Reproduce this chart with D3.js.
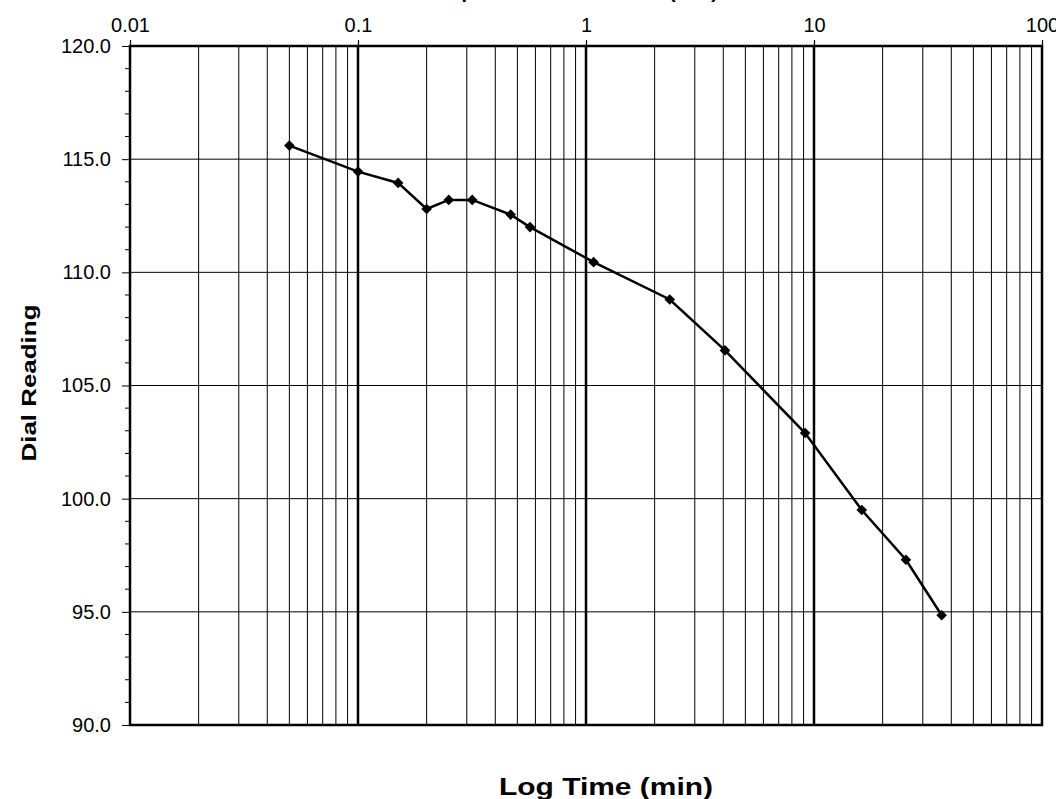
<!DOCTYPE html>
<html><head><meta charset="utf-8">
<script src="https://cdn.jsdelivr.net/npm/d3@7"></script>
<style>body{margin:0;background:#fff}svg{display:block}</style>
</head><body>
<svg id="c" width="1056" height="799"></svg>
<script>
const times = [0.05, 0.1, 0.15, 0.2, 0.25, 0.317, 0.467, 0.568, 1.08, 2.33, 4.07, 9.14, 16.2, 25.3, 36.3];
const readings = [115.6, 114.45, 113.95, 112.8, 113.2, 113.2, 112.55, 112.0, 110.45, 108.8, 106.55, 102.9, 99.5, 97.3, 94.85];
const xTickLabels = ["0.01", "0.1", "1", "10", "100"];
const xTickValues = [0.01, 0.1, 1, 10, 100];
const yTickValues = [90, 95, 100, 105, 110, 115, 120];
const xTitle = "Log Time (min)";
const yTitle = "Dial Reading";
const topTitle = "Temperature Scaled Time (min)";

const L = 130, R = 1042, T = 46, B = 725;
const FONT = "Liberation Sans, Arial, sans-serif";
const svg = d3.select("#c");
const x = d3.scaleLog().domain([0.01, 100]).range([L, R]);
const y = d3.scaleLinear().domain([90, 120]).range([B, T]);

// vertical grid lines (minor)
const minor = [];
for (let d = 0.01; d < 100; d *= 10) for (let k = 2; k <= 9; k++) minor.push(+(d * k).toPrecision(3));
svg.append("g").selectAll("line").data(minor).join("line")
  .attr("x1", d => x(d)).attr("x2", d => x(d)).attr("y1", T).attr("y2", B)
  .attr("stroke", "#000").attr("stroke-width", 1);
// horizontal grid
svg.append("g").selectAll("line").data(yTickValues).join("line")
  .attr("x1", L).attr("x2", R).attr("y1", d => y(d)).attr("y2", d => y(d))
  .attr("stroke", "#000").attr("stroke-width", 1);
// decade lines
svg.append("g").selectAll("line").data([0.1, 1, 10]).join("line")
  .attr("x1", d => x(d)).attr("x2", d => x(d)).attr("y1", T).attr("y2", B)
  .attr("stroke", "#000").attr("stroke-width", 2.5);

// top axis
const xAxis = d3.axisTop(x).tickValues(xTickValues).tickFormat((d, i) => xTickLabels[i]).tickSize(6).tickSizeOuter(0);
const gx = svg.append("g").attr("transform", `translate(0,${T})`).call(xAxis);
gx.select(".domain").remove();
gx.selectAll("line").attr("stroke", "#000").attr("stroke-width", 1.2);
gx.selectAll("text").attr("font-family", FONT).attr("font-size", 20).attr("fill", "#000").attr("dy", "-5");

// left axis
const yAxis = d3.axisLeft(y).tickValues(yTickValues).tickFormat(d3.format(".1f")).tickSize(8).tickSizeOuter(0).tickPadding(11);
const gy = svg.append("g").attr("transform", `translate(${L},0)`).call(yAxis);
gy.select(".domain").remove();
gy.selectAll("line").attr("stroke", "#000");
gy.selectAll("text").attr("font-family", FONT).attr("font-size", 20).attr("fill", "#000");
const yMinor = d3.range(90, 121, 1).filter(v => v % 5 !== 0);
svg.append("g").selectAll("line").data(yMinor).join("line")
  .attr("x1", L - 5).attr("x2", L).attr("y1", d => y(d)).attr("y2", d => y(d))
  .attr("stroke", "#000");

// plot border
svg.append("rect").attr("x", L).attr("y", T).attr("width", R - L).attr("height", B - T)
  .attr("fill", "none").attr("stroke", "#000").attr("stroke-width", 2.5);

// data line
const data = times.map((t, i) => ({t, v: readings[i]}));
svg.append("path").datum(data)
  .attr("d", d3.line().x(d => x(d.t)).y(d => y(d.v)))
  .attr("fill", "none").attr("stroke", "#000").attr("stroke-width", 2.5);
svg.append("g").selectAll("path").data(data).join("path")
  .attr("transform", d => `translate(${x(d.t)},${y(d.v)})`)
  .attr("d", d3.symbol(d3.symbolDiamond2, 72)())
  .attr("fill", "#000");

// titles
svg.append("text").attr("x", 606).attr("y", 795).attr("text-anchor", "middle")
  .attr("font-family", FONT).attr("font-weight", "bold").attr("font-size", 23)
  .attr("textLength", 214).attr("lengthAdjust", "spacingAndGlyphs")
  .text(xTitle);
svg.append("text").attr("transform", "translate(36,383) rotate(-90)").attr("text-anchor", "middle")
  .attr("font-family", FONT).attr("font-weight", "bold").attr("font-size", 21)
  .attr("textLength", 157).attr("lengthAdjust", "spacingAndGlyphs")
  .text(yTitle);
svg.append("text").attr("x", 718).attr("y", -2).attr("text-anchor", "end")
  .attr("font-family", FONT).attr("font-weight", "bold").attr("font-size", 20)
  .text(topTitle);
</script>
</body></html>
